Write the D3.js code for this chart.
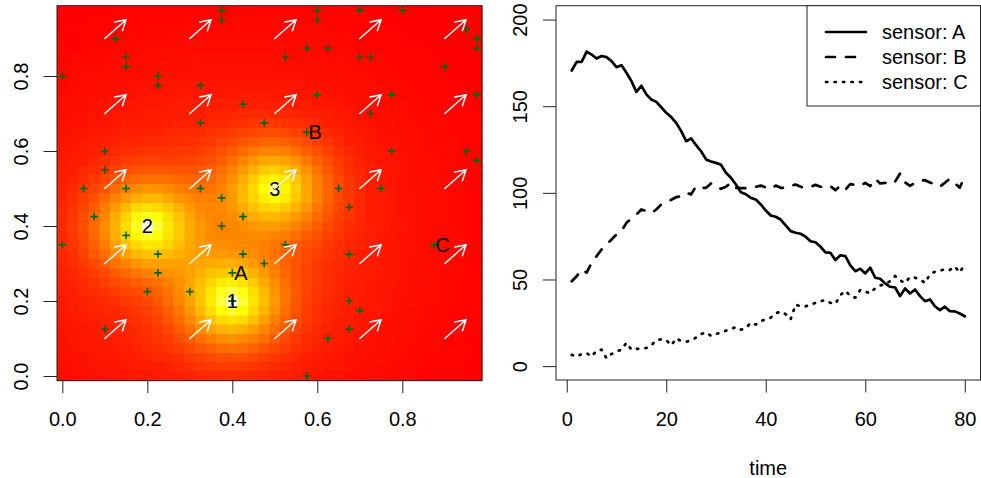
<!DOCTYPE html>
<html>
<head>
<meta charset="utf-8">
<script src="https://cdn.jsdelivr.net/npm/d3@7"></script>
<style>
  body { margin: 0; background: #fff; }
  svg { display: block; }
  text { font-family: "Liberation Sans", Arial, Helvetica, sans-serif; fill: #000; }
</style>
</head>
<body>
<svg id="chart" width="981" height="478"></svg>
<script>
// ---------- emission sources (concentration field) ----------
const sourceLabel = ["1", "2", "3"];
const sourceX = [0.4, 0.2, 0.5];
const sourceY = [0.2, 0.4, 0.5];
const sourceStrength = [1.0, 0.97, 0.9];

// ---------- sensors ----------
const sensorName = ["A", "B", "C"];
const sensorX = [0.4, 0.575, 0.875];
const sensorY = [0.275, 0.65, 0.35];

// ---------- sampled locations ----------
const pointX = [0.375, 0.375, 0.6, 0.6, 0.7, 0.8, 0.125, 0.95, 0.975, 0.975, 0.575, 0.625,
  0.15, 0.15, 0.525, 0.7, 0.725, 0.9, 0.0, 0.225, 0.225, 0.325, 0.6, 0.775, 0.975, 0.425,
  0.725, 0.325, 0.475, 0.1, 0.775, 0.95, 0.975, 0.1, 0.05, 0.15, 0.325, 0.65, 0.75, 0.375,
  0.675, 0.075, 0.425, 0.375, 0.15, 0.0, 0.525, 0.225, 0.425, 0.675, 0.475, 0.225, 0.2,
  0.3, 0.4, 0.675, 0.7, 0.1, 0.675, 0.625, 0.575];
const pointY = [0.975, 0.95, 0.975, 0.95, 0.975, 0.975, 0.9, 0.925, 0.9, 0.875, 0.875, 0.875,
  0.85, 0.825, 0.85, 0.85, 0.85, 0.825, 0.8, 0.8, 0.775, 0.775, 0.75, 0.75, 0.75, 0.725,
  0.7, 0.675, 0.675, 0.6, 0.6, 0.6, 0.575, 0.55, 0.5, 0.5, 0.5, 0.5, 0.5, 0.475,
  0.45, 0.425, 0.425, 0.4, 0.375, 0.35, 0.35, 0.325, 0.325, 0.325, 0.3, 0.275, 0.225,
  0.225, 0.2, 0.2, 0.175, 0.125, 0.125, 0.1, 0.0];

// ---------- wind field ----------
const windX = [0.1, 0.3, 0.5, 0.7, 0.9];
const windY = [0.1, 0.3, 0.5, 0.7, 0.9];
const windU = 0.05;
const windV = 0.05;

// ---------- time series per sensor ----------
const time = d3.range(1, 81);
const seriesA = [170.6, 175.6, 175.6, 181.5, 179.8, 177.5, 179.0, 178.3, 176.0, 172.5,
  173.7, 169.3, 164.5, 158.3, 161.8, 156.8, 153.9, 152.5, 149.4, 146.2,
  143.7, 140.4, 135.6, 129.8, 131.4, 127.5, 124.0, 119.3, 118.1, 117.3,
  116.2, 111.6, 108.7, 104.8, 100.4, 99.2, 97.1, 96.2, 93.3, 89.8,
  86.9, 86.2, 84.6, 81.2, 77.9, 77.0, 76.4, 74.7, 72.1, 71.5,
  68.9, 65.6, 65.4, 61.2, 64.0, 63.5, 58.1, 54.8, 56.2, 53.5,
  56.8, 51.0, 50.4, 47.7, 45.8, 45.4, 40.4, 44.8, 41.9, 44.2,
  40.4, 37.5, 38.5, 34.6, 32.3, 34.3, 31.7, 31.6, 30.4, 28.8];
const seriesB = [49.0, 51.9, 55.8, 54.0, 59.6, 63.5, 67.3, 70.2, 73.1, 76.0,
  77.9, 82.7, 85.2, 87.5, 90.4, 89.5, 88.3, 90.4, 93.3, 94.8,
  96.0, 97.5, 98.1, 100.0, 99.1, 103.9, 102.9, 102.9, 105.4, 104.8,
  102.3, 103.5, 105.8, 102.9, 102.7, 102.7, 102.7, 103.5, 104.2, 103.1,
  102.3, 104.2, 102.9, 102.9, 104.0, 104.8, 103.5, 102.9, 103.5, 104.6,
  103.5, 102.9, 103.9, 101.5, 104.2, 101.8, 105.0, 104.5, 104.0, 105.8,
  103.9, 108.1, 105.4, 105.8, 104.8, 106.5, 111.2, 106.0, 104.0, 105.8,
  107.0, 107.3, 106.0, 104.8, 103.5, 105.8, 108.1, 105.5, 103.0, 109.6];
const seriesC = [6.5, 5.5, 7.0, 7.5, 5.5, 9.0, 9.5, 4.5, 7.0, 8.5,
  9.5, 13.5, 9.5, 10.0, 10.0, 10.5, 12.0, 15.0, 15.5, 15.0,
  12.0, 16.0, 14.5, 14.0, 15.0, 16.5, 18.5, 19.5, 17.5, 18.5,
  19.5, 20.5, 21.5, 22.5, 21.0, 22.0, 25.0, 24.0, 26.0, 27.0,
  28.0, 30.5, 31.5, 30.0, 27.0, 35.5, 34.5, 34.5, 35.5, 36.5,
  37.5, 38.0, 36.5, 36.0, 41.0, 43.5, 40.5, 39.5, 44.0, 43.0,
  42.0, 45.0, 46.5, 47.5, 49.0, 52.0, 49.5, 48.0, 51.5, 51.0,
  50.0, 48.0, 53.0, 54.5, 55.0, 56.0, 55.5, 57.5, 54.0, 59.0];
const legendLabels = ["sensor: A", "sensor: B", "sensor: C"];

const svg = d3.select("#chart");
const FS = 20;
const AXIS_COL = "#222";

// ======================= left panel: concentration map =======================
const gridN = 40, cell = 0.025;
const mx = d3.scaleLinear().domain([-cell / 2, gridN * cell - cell / 2]).range([57, 482]);
const my = d3.scaleLinear().domain([-cell / 2, gridN * cell - cell / 2]).range([380.7, 5.7]);

// plume kernel: sharp core + smooth body + faint wide halo
function kernel(r) {
  return 0.33 * Math.exp(-r / 0.03)
       + 0.62 * Math.exp(-(r * r) / (2 * 0.088 * 0.088))
       + 0.09 * Math.exp(-(r * r) / (2 * 0.27 * 0.27));
}
const cells = [];
for (let i = 0; i < gridN; i++) {
  for (let j = 0; j < gridN; j++) {
    const x = i * cell, y = j * cell;
    let v = 0;
    sourceX.forEach((sx, k) => {
      v += sourceStrength[k] * kernel(Math.hypot(x - sx, y - sourceY[k]));
    });
    cells.push({ x, y, v });
  }
}
const vExt = d3.extent(cells, d => d.v);

// R-style heat palette: red -> yellow, last quarter fading towards white
function heatColors(n) {
  const j = Math.floor(n / 4), i = n - j, out = [];
  for (let k = 0; k < i; k++) {
    const h = i > 1 ? k / (i - 1) : 0;
    out.push(d3.rgb(255, Math.round(255 * h), 0).formatHex());
  }
  for (let k = 0; k < j; k++) {
    const s0 = 1 - 1 / (2 * j), s1 = 1 / (2 * j);
    const s = j > 1 ? s0 + k * (s1 - s0) / (j - 1) : 0.5;
    out.push(d3.rgb(255, 255, Math.round(255 * (1 - s))).formatHex());
  }
  return out;
}
const palette = heatColors(100);
const colorOf = v => {
  const t = (v - vExt[0]) / (vExt[1] - vExt[0]);
  return palette[Math.min(palette.length - 1, Math.floor(t * palette.length))];
};

const map = svg.append("g");
map.selectAll("rect.cell").data(cells).join("rect")
  .attr("class", "cell")
  .attr("x", d => mx(d.x - cell / 2))
  .attr("y", d => my(d.y + cell / 2))
  .attr("width", d => mx(d.x + cell / 2) - mx(d.x - cell / 2))
  .attr("height", d => my(d.y - cell / 2) - my(d.y + cell / 2))
  .attr("fill", d => colorOf(d.v))
  .attr("stroke", d => colorOf(d.v))
  .attr("stroke-width", 0.4)
  .attr("shape-rendering", "crispEdges");

// sampled locations
const plus = "M-3.9,0H3.9M0,-3.9V3.9";
const PT_COL = "#0a640a";
map.selectAll("path.pt").data(d3.range(pointX.length)).join("path")
  .attr("class", "pt")
  .attr("transform", i => `translate(${mx(pointX[i])},${my(pointY[i])})`)
  .attr("d", plus).attr("stroke", PT_COL).attr("stroke-width", 1.6).attr("fill", "none");
map.selectAll("path.sensorpt").data(d3.range(sensorX.length)).join("path")
  .attr("class", "sensorpt")
  .attr("transform", i => `translate(${mx(sensorX[i])},${my(sensorY[i])})`)
  .attr("d", plus).attr("stroke", PT_COL).attr("stroke-width", 1.6).attr("fill", "none");
// a sample also sits on source 1
map.append("path")
  .attr("transform", `translate(${mx(sourceX[0])},${my(sourceY[0])})`)
  .attr("d", plus).attr("stroke", PT_COL).attr("stroke-width", 1.6).attr("fill", "none");

// source and sensor labels
map.selectAll("text.src").data(d3.range(sourceX.length)).join("text")
  .attr("class", "src")
  .attr("x", i => mx(sourceX[i])).attr("y", i => my(sourceY[i]))
  .attr("text-anchor", "middle").attr("dominant-baseline", "central")
  .attr("font-size", FS).text(i => sourceLabel[i]);
map.selectAll("text.sen").data(d3.range(sensorX.length)).join("text")
  .attr("class", "sen")
  .attr("x", i => mx(sensorX[i] + 0.02)).attr("y", i => my(sensorY[i]))
  .attr("text-anchor", "middle").attr("dominant-baseline", "central")
  .attr("font-size", FS).text(i => sensorName[i]);

// wind arrows
const arrows = [];
windX.forEach(x => windY.forEach(y => arrows.push({ x, y })));
const headLen = 11.5, headAng = Math.PI / 6;
map.selectAll("path.wind").data(arrows).join("path")
  .attr("class", "wind")
  .attr("d", d => {
    const x0 = mx(d.x), y0 = my(d.y), x1 = mx(d.x + windU), y1 = my(d.y + windV);
    const a = Math.atan2(y0 - y1, x0 - x1);
    const b1x = x1 + headLen * Math.cos(a + headAng), b1y = y1 + headLen * Math.sin(a + headAng);
    const b2x = x1 + headLen * Math.cos(a - headAng), b2y = y1 + headLen * Math.sin(a - headAng);
    return `M${x0},${y0}L${x1},${y1}M${b1x},${b1y}L${x1},${y1}L${b2x},${b2y}`;
  })
  .attr("stroke", "#fff").attr("stroke-width", 1.5).attr("fill", "none")
  .attr("stroke-linecap", "round");

// box and axes
map.append("rect")
  .attr("x", mx.range()[0]).attr("y", my.range()[1])
  .attr("width", mx.range()[1] - mx.range()[0]).attr("height", my.range()[0] - my.range()[1])
  .attr("fill", "none").attr("stroke", AXIS_COL).attr("stroke-width", 1);

const mapTicks = [0, 0.2, 0.4, 0.6, 0.8];
const fmt1 = d3.format(".1f");
const ax1 = svg.append("g").attr("transform", `translate(0,${my.range()[0]})`)
  .call(d3.axisBottom(mx).tickValues(mapTicks).tickFormat(fmt1).tickSize(12.5));
const ay1 = svg.append("g").attr("transform", `translate(${mx.range()[0]},0)`)
  .call(d3.axisLeft(my).tickValues(mapTicks).tickFormat(fmt1).tickSize(13.5));

// ======================= right panel: sensor time series =======================
const tx = d3.scaleLinear().domain([1 - 0.04 * 79, 80 + 0.04 * 79]).range([556, 980.5]);
const ty = d3.scaleLinear().domain([-8, 208]).range([380, 5.7]);

const ts = svg.append("g");
const line = d3.line().x((d, i) => tx(time[i])).y(d => ty(d));
const styles = [
  { data: seriesA, dash: null },
  { data: seriesB, dash: "9,11" },
  { data: seriesC, dash: "1.3,7.2" }
];
styles.forEach(s => {
  ts.append("path").datum(s.data)
    .attr("d", line)
    .attr("fill", "none").attr("stroke", "#000").attr("stroke-width", 2.7)
    .attr("stroke-linejoin", "round").attr("stroke-linecap", "round")
    .attr("stroke-dasharray", s.dash);
});

ts.append("rect")
  .attr("x", tx.range()[0]).attr("y", ty.range()[1])
  .attr("width", tx.range()[1] - tx.range()[0]).attr("height", ty.range()[0] - ty.range()[1])
  .attr("fill", "none").attr("stroke", AXIS_COL).attr("stroke-width", 1);

const ax2 = svg.append("g").attr("transform", `translate(0,${ty.range()[0]})`)
  .call(d3.axisBottom(tx).tickValues([0, 20, 40, 60, 80]).tickSize(12.5));
const ay2 = svg.append("g").attr("transform", `translate(${tx.range()[0]},0)`)
  .call(d3.axisLeft(ty).tickValues([0, 50, 100, 150, 200]).tickSize(13));

// shared axis styling
[ax1, ay1, ax2, ay2].forEach(g => {
  g.select(".domain").remove();
  g.selectAll(".tick line").attr("stroke", AXIS_COL).attr("stroke-width", 1);
  g.selectAll(".tick text").attr("font-size", FS).attr("fill", "#000")
    .attr("font-family", "Liberation Sans, Arial, sans-serif");
});
[ax1, ax2].forEach(g => g.selectAll(".tick text").attr("y", 45.5).attr("dy", null));
[ay1, ay2].forEach(g => g.selectAll(".tick text")
  .attr("x", null).attr("dy", null).attr("text-anchor", "middle")
  .attr("transform", "translate(-29.5,0) rotate(-90)"));

// x-axis title
svg.append("text").attr("x", (tx.range()[0] + tx.range()[1]) / 2).attr("y", 475)
  .attr("text-anchor", "middle").attr("font-size", FS).text("time");

// legend
const lg = svg.append("g");
lg.append("rect").attr("x", 807).attr("y", ty.range()[1])
  .attr("width", tx.range()[1] - 807).attr("height", 100.3)
  .attr("fill", "#fff").attr("stroke", AXIS_COL).attr("stroke-width", 1);
const legendRowY = [32, 57, 82];
legendLabels.forEach((lab, i) => {
  lg.append("line").attr("x1", 826).attr("x2", 866)
    .attr("y1", legendRowY[i]).attr("y2", legendRowY[i])
    .attr("stroke", "#000").attr("stroke-width", 2.7).attr("stroke-linecap", "round")
    .attr("stroke-dasharray", styles[i].dash);
  lg.append("text").attr("x", 882).attr("y", legendRowY[i])
    .attr("dominant-baseline", "central").attr("font-size", FS).text(lab);
});
</script>
</body>
</html>
